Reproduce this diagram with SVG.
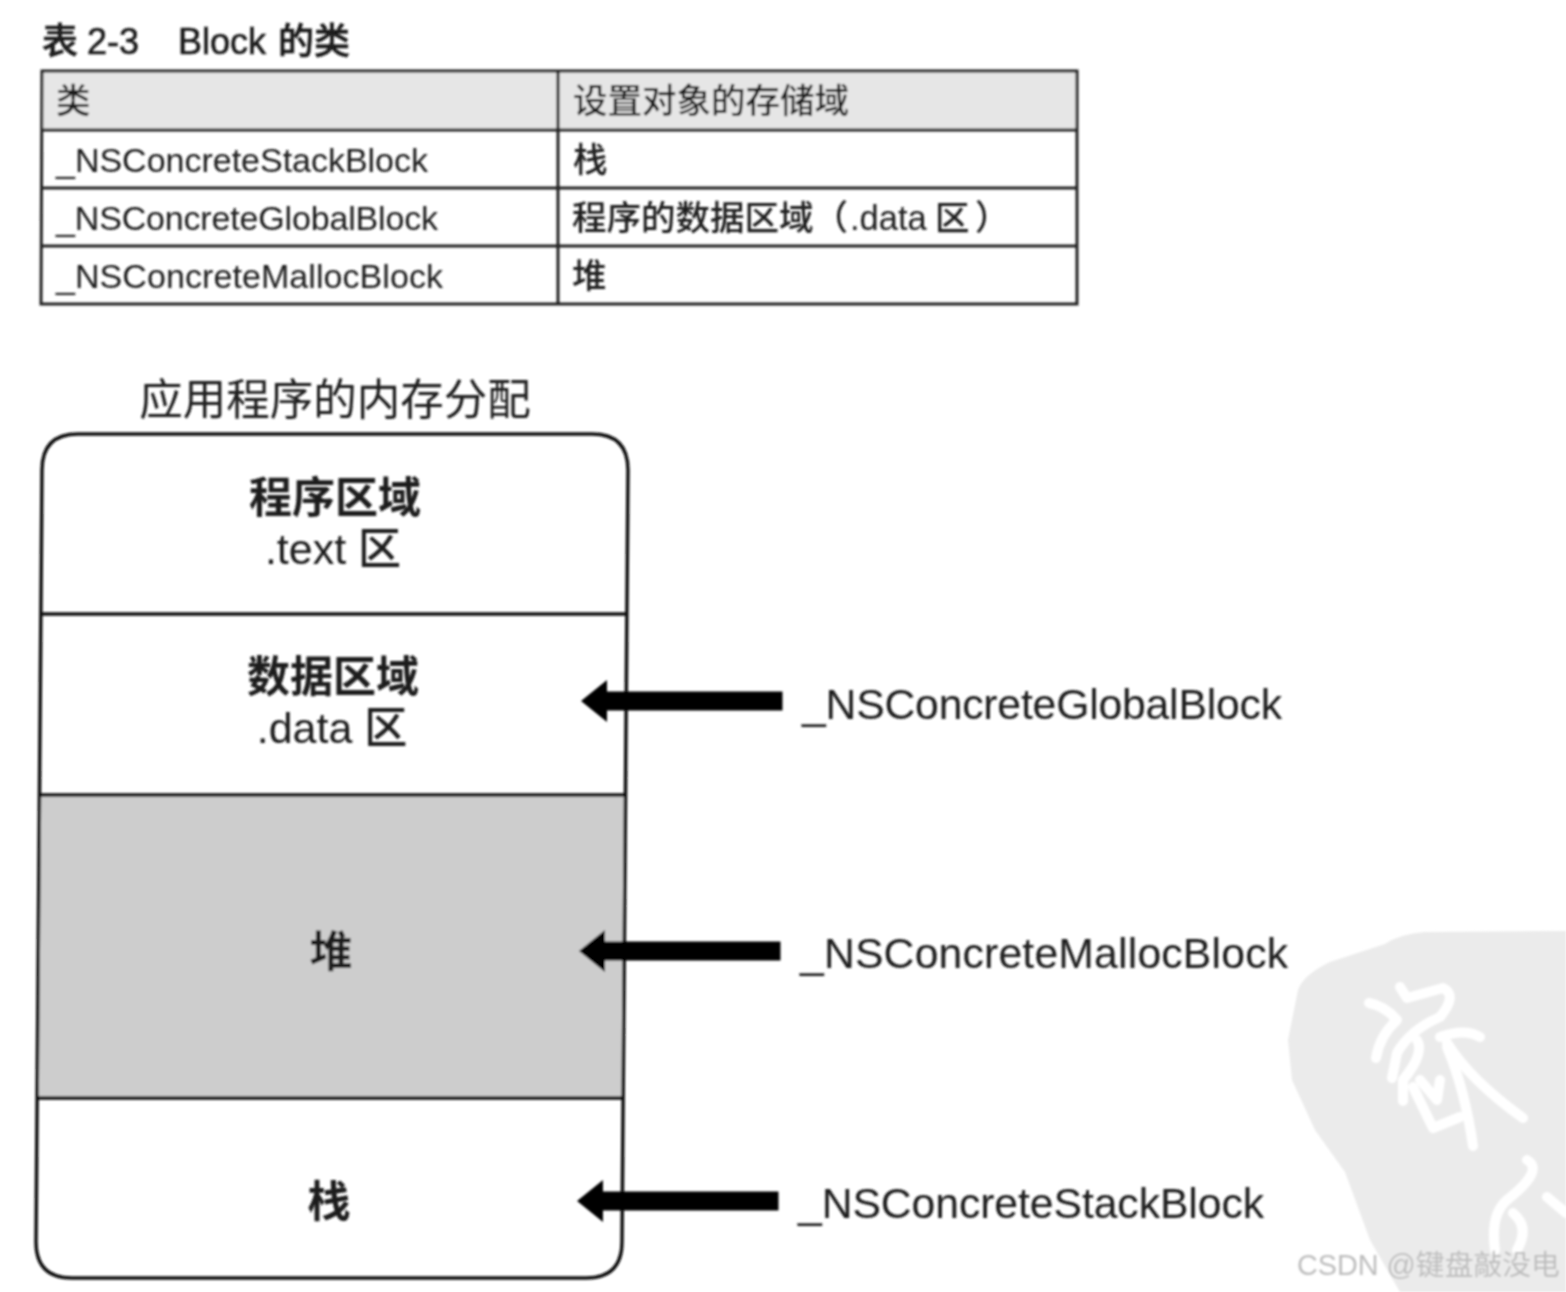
<svg xmlns="http://www.w3.org/2000/svg" width="1566" height="1292" viewBox="0 0 1566 1292">
<defs>
<filter id="soft" x="-2%" y="-2%" width="104%" height="104%"><feGaussianBlur stdDeviation="0.8"/></filter>
<polygon id="arrow" points="0,0 26,-21 26,-9.5 201.5,-9.5 201.5,9.5 26,9.5 26,21" fill="#000"/>
</defs>
<style>
text{font-family:"Liberation Sans","Noto Sans CJK SC",sans-serif;fill:#1a1a1a}
.cjk{font-family:"Noto Sans CJK SC",sans-serif;font-weight:500}
.t{font-size:34px}
.tc{font-size:34.5px}
.l{font-size:42.7px}
.m{font-size:43px;text-anchor:middle}
.rule{stroke:#222;stroke-width:3;fill:none}
.cell{stroke:#222;stroke-width:3}
.seal{fill:none;stroke:#fff;stroke-width:10;stroke-linecap:round;stroke-linejoin:round}
</style>
<rect width="1566" height="1292" fill="#fff"/>
<g filter="url(#soft)">
<g id="watermark">
<path d="M1566,931 L1425,932 Q1400,934 1385,944 L1330,962 Q1303,975 1298,990 L1288,1040 L1292,1080 L1315,1130 L1345,1172 L1370,1240 L1400,1292 L1566,1292 Z" fill="#ebebeb"/>
<path class="seal" d="M1369,1003 Q1385,1006 1397,1020 Q1380,1035 1376,1058"/>
<path class="seal" d="M1400,987 L1407,998 L1443,988 Q1458,995 1440,1017 Q1410,1030 1397,1053 L1392,1078"/>
<path class="seal" d="M1417,1040 Q1425,1053 1403,1080 L1403,1101"/>
<path class="seal" d="M1440,1037 Q1465,1028 1480,1037"/>
<path class="seal" d="M1447,1043 Q1470,1080 1523,1118"/>
<path class="seal" d="M1447,1047 Q1465,1090 1473,1146"/>
<path class="seal" d="M1413,1087 L1433,1128 L1460,1117"/>
<path class="seal" d="M1420,1080 L1437,1100 L1440,1080"/>
<path class="seal" d="M1527,1160 Q1545,1170 1507,1200 Q1490,1215 1495,1250"/>
<path class="seal" d="M1513,1213 Q1530,1227 1517,1250"/>
<path class="seal" d="M1547,1197 L1566,1213"/>
</g>
<g id="table-title"><text y="54" style="font-size:36px;stroke:#1a1a1a;stroke-width:0.6"><tspan x="42" class="cjk">表</tspan><tspan x="87">2-3</tspan><tspan x="178">Block</tspan><tspan x="278" class="cjk">的类</tspan></text></g>
<g id="table">
<rect x="42" y="71" width="1035" height="59" fill="#e6e6e6"/>
<path class="rule" d="M42,71 L1077,71 L1077,304 L41,304 Z"/>
<path class="cell" d="M42,130 L1077,130 M42,188 L1077,188 M42,246 L1077,246 M558,71 L558,304"/>
</g>
<g id="table-cells">
<text x="56" y="113" class="tc cjk">类</text>
<text x="573" y="113" class="tc cjk">设置对象的存储域</text>
<text x="56" y="172" class="t" textLength="372">_NSConcreteStackBlock</text>
<text x="573" y="172" class="tc cjk">栈</text>
<text x="56" y="230" class="t" textLength="382">_NSConcreteGlobalBlock</text>
<text y="230" class="tc"><tspan x="572" class="cjk">程序的数据区域（</tspan><tspan x="850">.data</tspan><tspan x="935" class="cjk">区</tspan><tspan x="975" class="cjk">）</tspan></text>
<text x="56" y="288" class="t" textLength="387">_NSConcreteMallocBlock</text>
<text x="572" y="288" class="tc cjk">堆</text>
</g>
<g id="memory-title"><text x="335" y="415" class="m cjk" style="font-size:43.5px;font-weight:400">应用程序的内存分配</text></g>
<g id="memory">
<path d="M40,795 L625,795 L623,1098 L38,1098 Z" fill="#cdcdcd"/>
<path d="M78,434 L592,434 Q628,434 628,470 L622,1242 Q622,1278 586,1278 L72,1278 Q36,1278 36,1242 L42,470 Q42,434 78,434 Z" fill="none" stroke="#111" stroke-width="3.5"/>
<path d="M41,614 L627,614 M40,795 L625,795 M38,1098 L623,1098" stroke="#111" stroke-width="3.5"/>
</g>
<g id="region-text">
<text class="m"><tspan x="335" y="513" class="cjk" style="font-weight:700">程序区域</tspan><tspan x="333" y="564">.text <tspan class="cjk">区</tspan></tspan></text>
<text class="m"><tspan x="333" y="692" class="cjk" style="font-weight:700">数据区域</tspan><tspan x="332" y="743">.data <tspan class="cjk">区</tspan></tspan></text>
<text x="331" y="967" class="m cjk" style="font-weight:700">堆</text>
<text x="329" y="1217" class="m cjk" style="font-weight:700">栈</text>
</g>
<g id="connectors">
<use href="#arrow" x="581" y="701"/>
<use href="#arrow" x="579" y="951"/>
<use href="#arrow" x="577" y="1201"/>
</g>
<g id="block-labels">
<text x="802" y="719" class="l" textLength="480">_NSConcreteGlobalBlock</text>
<text x="800" y="968" class="l" textLength="488">_NSConcreteMallocBlock</text>
<text x="798" y="1218" class="l" textLength="466">_NSConcreteStackBlock</text>
</g>
<g id="credit"><text x="1297" y="1275" style="font-size:28.8px;fill:#bdbdbd">CSDN @<tspan class="cjk" style="font-weight:400">键盘敲没电</tspan></text></g>
</g>
</svg>
